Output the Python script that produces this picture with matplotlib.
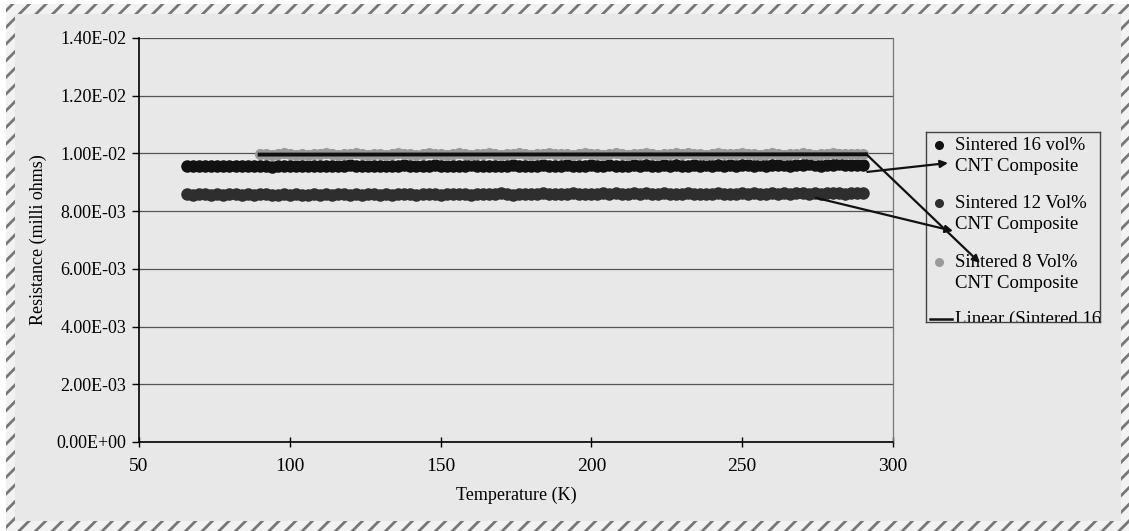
import matplotlib
matplotlib.use("Agg")
import matplotlib.pyplot as plt
from matplotlib.patches import Rectangle
import numpy as np

# temperature grid (K), shared by the 16 and 12 vol% runs
temp = [66, 68, 70, 72, 74, 76, 78, 80, 82, 84,
        86, 88, 90, 92, 94, 96, 98, 100, 102, 104,
        106, 108, 110, 112, 114, 116, 118, 120, 122, 124,
        126, 128, 130, 132, 134, 136, 138, 140, 142, 144,
        146, 148, 150, 152, 154, 156, 158, 160, 162, 164,
        166, 168, 170, 172, 174, 176, 178, 180, 182, 184,
        186, 188, 190, 192, 194, 196, 198, 200, 202, 204,
        206, 208, 210, 212, 214, 216, 218, 220, 222, 224,
        226, 228, 230, 232, 234, 236, 238, 240, 242, 244,
        246, 248, 250, 252, 254, 256, 258, 260, 262, 264,
        266, 268, 270, 272, 274, 276, 278, 280, 282, 284,
        286, 288, 290]
temp_8 = temp[12:]

# resistance values, read in units of 1e-3
r16 = [9.58, 9.56, 9.57, 9.55, 9.57, 9.56, 9.58, 9.55, 9.57, 9.56,
       9.57, 9.55, 9.58, 9.56, 9.54, 9.57, 9.55, 9.58, 9.56, 9.57,
       9.55, 9.57, 9.56, 9.58, 9.55, 9.57, 9.56, 9.59, 9.57, 9.55,
       9.58, 9.56, 9.57, 9.55, 9.58, 9.56, 9.59, 9.57, 9.55, 9.58,
       9.56, 9.59, 9.57, 9.56, 9.58, 9.55, 9.57, 9.59, 9.56, 9.58,
       9.57, 9.55, 9.58, 9.56, 9.59, 9.57, 9.55, 9.58, 9.56, 9.59,
       9.57, 9.58, 9.56, 9.59, 9.57, 9.55, 9.58, 9.60, 9.57, 9.56,
       9.59, 9.57, 9.58, 9.56, 9.59, 9.57, 9.60, 9.58, 9.56, 9.59,
       9.57, 9.60, 9.58, 9.56, 9.59, 9.58, 9.60, 9.57, 9.59, 9.58,
       9.60, 9.58, 9.61, 9.59, 9.57, 9.60, 9.58, 9.61, 9.59, 9.60,
       9.58, 9.61, 9.59, 9.62, 9.60, 9.58, 9.61, 9.60, 9.62, 9.59,
       9.61, 9.60, 9.61]
r12 = [8.59, 8.57, 8.60, 8.58, 8.56, 8.59, 8.57, 8.60, 8.58, 8.57,
       8.59, 8.56, 8.58, 8.60, 8.57, 8.55, 8.58, 8.56, 8.59, 8.57,
       8.55, 8.58, 8.56, 8.59, 8.57, 8.60, 8.58, 8.56, 8.59, 8.57,
       8.60, 8.58, 8.56, 8.59, 8.57, 8.61, 8.58, 8.60, 8.57, 8.59,
       8.58, 8.60, 8.57, 8.59, 8.61, 8.58, 8.60, 8.57, 8.59, 8.61,
       8.58, 8.60, 8.62, 8.59, 8.57, 8.60, 8.58, 8.61, 8.59, 8.62,
       8.60, 8.58, 8.61, 8.59, 8.62, 8.60, 8.58, 8.61, 8.59, 8.62,
       8.60, 8.62, 8.61, 8.59, 8.62, 8.60, 8.62, 8.61, 8.59, 8.62,
       8.59, 8.61, 8.60, 8.62, 8.60, 8.58, 8.61, 8.59, 8.62, 8.60,
       8.61, 8.59, 8.62, 8.60, 8.63, 8.61, 8.59, 8.62, 8.60, 8.63,
       8.61, 8.63, 8.62, 8.60, 8.63, 8.61, 8.63, 8.62, 8.63, 8.61,
       8.63, 8.62, 8.63]
r8 = [9.97, 9.99, 9.96, 9.98, 10.00, 9.97, 9.95, 9.98, 9.96, 9.99,
      9.97, 10.00, 9.98, 9.96, 9.99, 9.97, 10.01, 9.98, 9.96, 9.99,
      9.97, 9.95, 9.98, 10.00, 9.97, 9.99, 9.96, 9.98, 10.01, 9.97,
      9.99, 9.96, 9.98, 10.00, 9.97, 9.95, 9.99, 9.97, 10.00, 9.98,
      9.96, 9.99, 9.97, 10.01, 9.98, 9.96, 9.99, 9.97, 10.00, 9.98,
      9.97, 9.99, 9.96, 9.98, 10.00, 9.97, 9.99, 9.96, 9.98, 10.01,
      9.98, 9.96, 9.99, 9.97, 10.00, 9.98, 9.96, 9.99, 9.97, 10.00,
      9.98, 10.01, 9.97, 9.99, 9.96, 9.98, 10.00, 9.97, 9.99, 9.98,
      10.00, 9.97, 9.99, 9.96, 9.98, 10.01, 9.98, 9.96, 9.99, 9.97,
      10.00, 9.98, 9.96, 9.99, 9.97, 10.00, 9.98, 9.99, 9.97, 9.98,
      9.99]
trend_t = [90, 291]
trend_r = [9.96, 9.97]

labels = ["Sintered 16 vol%\nCNT Composite",
          "Sintered 12 Vol%\nCNT Composite",
          "Sintered 8 Vol%\nCNT Composite",
          "Linear (Sintered 16 vol% CNT Composite)"]
colors = ["#111111", "#2e2e2e", "#9a9a9a"]

bg = "#e8e8e8"
plt.rcParams['font.family'] = ['Liberation Serif', 'DejaVu Serif']
plt.rcParams['hatch.linewidth'] = 2.0

W, H = 1129, 531
fig = plt.figure(figsize=(W / 100, H / 100), dpi=100, facecolor="white")

# page background with hatched frame
fig.add_artist(Rectangle((6 / W, 0), 1 - 6 / W, 1 - 4 / H, transform=fig.transFigure,
                         facecolor=bg, edgecolor="none", zorder=-10))
for x0, y0, x1, y1 in [(6, 4, 1129, 14), (6, 521, 1129, 531), (6, 4, 15, 531), (1121, 4, 1129, 531)]:
    fig.add_artist(Rectangle((x0 / W, 1 - y1 / H), (x1 - x0) / W, (y1 - y0) / H,
                             transform=fig.transFigure, facecolor="#f2f2f2",
                             edgecolor="#777777", hatch="//", lw=0, zorder=-9))

ax = fig.add_axes([139 / W, 1 - 442 / H, (893 - 139) / W, (442 - 38) / H])
ax.set_facecolor(bg)

ax.plot(temp, np.array(r16) * 1e-3, 'o', color=colors[0], ms=8, mec=colors[0], zorder=3)
ax.plot(temp, np.array(r12) * 1e-3, 'o', color=colors[1], ms=8, mec=colors[1], zorder=3)
ax.plot(temp_8, np.array(r8) * 1e-3, 'o', color=colors[2], ms=7, mec=colors[2], zorder=3)
ax.plot(trend_t, np.array(trend_r) * 1e-3, '-', color="#101010", lw=2.8, zorder=4)

ax.set_xlim(50, 300)
ax.set_ylim(0, 0.014)
ax.set_xticks([50, 100, 150, 200, 250, 300])
ax.set_yticks(np.arange(0, 0.0141, 0.002))
ax.set_yticklabels(["{:.2E}".format(v) for v in np.arange(0, 0.0141, 0.002)])
ax.yaxis.grid(True, color="#555555", lw=0.9)
ax.set_axisbelow(True)
ax.spines["top"].set_visible(False)
ax.spines["right"].set_color("#777777")
ax.spines["right"].set_linewidth(0.9)
ax.spines["left"].set_linewidth(1.2)
ax.spines["bottom"].set_linewidth(1.2)
ax.tick_params(axis='x', direction='inout', length=7, width=1, labelsize=14, pad=8)
ax.tick_params(axis='y', direction='out', length=5, width=1, labelsize=13, pad=4)

ax.set_xlabel("Temperature (K)", fontsize=13)
ax.set_ylabel("Resistance (milli ohms)", fontsize=13)
ax.xaxis.set_label_coords(0.5, -(487 - 442) / 404)
ax.yaxis.set_label_coords((47 - 139) / 754, 0.5)

# legend box (clipped at its bottom, as in the source)
lg = fig.add_axes([926 / W, 1 - 322 / H, 174 / W, 190 / H])
lg.set_facecolor(bg)
lg.set_xlim(0, 174)
lg.set_ylim(190, 0)
lg.set_xticks([])
lg.set_yticks([])
for s in lg.spines.values():
    s.set_color("#444444")
    s.set_linewidth(1.0)
marker_y = [13, 71, 130]
for i in range(3):
    lg.plot([13], [marker_y[i]], 'o', color=colors[i], ms=5.5, mec=colors[i])
    lg.text(29, marker_y[i] - 8, labels[i], fontsize=13.5, va='top', ha='left',
            linespacing=1.3, clip_on=True)
lg.plot([4, 26], [187, 187], '-', color="#111111", lw=1.8, clip_on=True)
lg.text(29, 179, labels[3], fontsize=13.5, va='top', ha='left', clip_on=True)

# hand drawn arrows linking the series to the legend, drawn above the legend box
arrow = dict(arrowstyle='-|>', color="#111111", lw=1.6, mutation_scale=11, shrinkA=0, shrinkB=0)
starts = [(291.5, 9.36e-3), (274.5, 8.46e-3), (291, 9.99e-3)]
ends = [(948, H - 163), (953, H - 231), (980, H - 263)]
for st, en in zip(starts, ends):
    lg.annotate('', xy=en, xycoords='figure pixels',
                xytext=st, textcoords=ax.transData, arrowprops=arrow, annotation_clip=False)

fig.savefig("out.png", dpi=100, facecolor="white")
